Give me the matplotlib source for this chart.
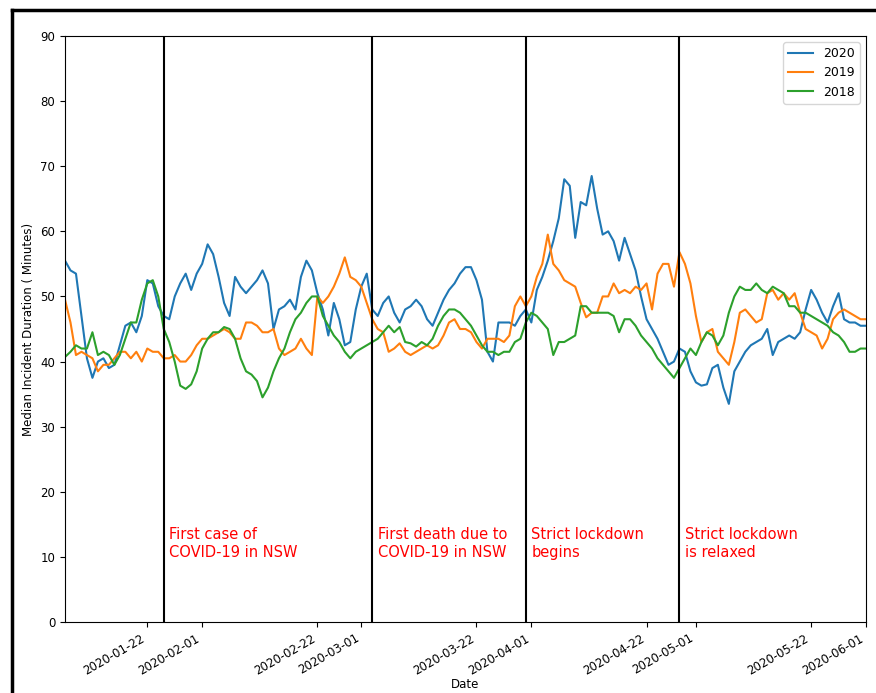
import numpy as np
import pandas as pd
import matplotlib
matplotlib.use('Agg')
import matplotlib.pyplot as plt
import matplotlib.dates as mdates
from matplotlib.lines import Line2D

# daily rolling median incident duration, 2020-01-07 .. 2020-06-01
start = '2020-01-07'
end = '2020-06-01'

y2020 = [55.5, 54, 53.5, 47, 40.5, 37.5, 40, 40.5, 39, 39.5,
         42.5, 45.5, 46, 44.5, 47, 52.5, 52, 48.5, 47, 46.5,
         50, 52, 53.5, 51, 53.5, 55, 58, 56.5, 53, 49,
         47, 53, 51.5, 50.5, 51.5, 52.5, 54, 52, 45, 48,
         48.5, 49.5, 48, 53, 55.5, 54, 50.5, 48, 44, 49,
         46.5, 42.5, 43, 48, 51.5, 53.5, 48, 47, 49, 50,
         47.5, 46, 48, 48.5, 49.5, 48.5, 46.5, 45.5, 47.5, 49.5,
         51, 52, 53.5, 54.5, 54.5, 52.5, 49.5, 41.5, 40, 46,
         46, 46, 45.5, 47, 48, 46, 51, 53, 55.5, 58.5,
         62, 68, 67, 59, 64.5, 64, 68.5, 63.5, 59.5, 60,
         58.5, 55.5, 59, 56.5, 54, 50, 46.5, 45, 43.5, 41.5,
         39.5, 40, 42, 41.5, 38.5, 36.8, 36.3, 36.5, 39, 39.5,
         36, 33.5, 38.5, 40, 41.5, 42.5, 43, 43.5, 45, 41,
         43, 43.5, 44, 43.5, 44.5, 48, 51, 49.5, 47.5, 46,
         48.5, 50.5, 46.5, 46, 46, 45.5, 45.5]

y2019 = [49.5, 46, 41, 41.5, 41, 40.5, 38.5, 39.5, 39.5, 40.5,
         41.5, 41.5, 40.5, 41.5, 40, 42, 41.5, 41.5, 40.5, 40.5,
         41, 40, 40, 41, 42.5, 43.5, 43.5, 44, 44.5, 45,
         44.5, 43.5, 43.5, 46, 46, 45.5, 44.5, 44.5, 45, 42,
         41, 41.5, 42, 43.5, 42, 41, 50, 49, 50, 51.5,
         53.5, 56, 53, 52.5, 51.5, 49, 46.5, 45, 44.5, 41.5,
         42, 42.8, 41.5, 41, 41.5, 42, 42.5, 42, 42.5, 44,
         46, 46.5, 45, 45, 44.5, 43, 42, 43.5, 43.5, 43.5,
         43, 44, 48.5, 50, 48.5, 50, 53, 55, 59.5, 55,
         54, 52.5, 52, 51.5, 49, 46.8, 47.5, 47.5, 50, 50,
         52, 50.5, 51, 50.5, 51.5, 51, 52, 48, 53.5, 55,
         55, 51.5, 56.8, 55, 52, 47, 43, 44.5, 45, 41.5,
         40.5, 39.5, 43, 47.5, 48, 47, 46, 46.5, 50.5, 51,
         49.5, 50.5, 49.5, 50.5, 47.5, 45, 44.5, 44, 42, 43.5,
         46.5, 47.5, 48, 47.5, 47, 46.5, 46.5]

y2018 = [40.7, 41.5, 42.5, 42, 42, 44.5, 41, 41.5, 41, 39.5,
         41, 43.5, 46, 46, 49.5, 52, 52.5, 50, 45, 43,
         40, 36.3, 35.8, 36.5, 38.5, 42, 43.5, 44.5, 44.5, 45.3,
         45, 43.5, 40.5, 38.5, 38, 37, 34.5, 36, 38.5, 40.5,
         42, 44.5, 46.5, 47.5, 49, 50, 50, 47, 45.5, 44,
         43, 41.5, 40.5, 41.5, 42, 42.5, 43, 43.5, 44.5, 45.5,
         44.5, 45.3, 43, 42.8, 42.3, 43, 42.5, 43.5, 45.5, 47,
         48, 48, 47.5, 46.5, 45.5, 44, 42.5, 41.5, 41.5, 41,
         41.5, 41.5, 43, 43.5, 46, 47.5, 47, 46, 45, 41,
         43, 43, 43.5, 44, 48.5, 48.5, 47.5, 47.5, 47.5, 47.5,
         47, 44.5, 46.5, 46.5, 45.5, 44, 43, 42, 40.5, 39.5,
         38.5, 37.5, 39, 40.5, 42, 41, 43, 44.5, 44, 42.5,
         44, 47.5, 50, 51.5, 51, 51, 52, 51, 50.5, 51.5,
         51, 50.5, 48.5, 48.5, 47.5, 47.5, 47, 46.5, 46, 45.5,
         44.5, 44, 43, 41.5, 41.5, 42, 42]

event_dates = ['2020-01-25', '2020-03-03', '2020-03-31', '2020-04-28']
event_labels = ['First case of\nCOVID-19 in NSW',
                'First death due to\nCOVID-19 in NSW',
                'Strict lockdown\nbegins',
                'Strict lockdown\nis relaxed']
tick_dates = ['2020-01-22', '2020-02-01', '2020-02-22', '2020-03-01', '2020-03-22',
              '2020-04-01', '2020-04-22', '2020-05-01', '2020-05-22', '2020-06-01']

dates = pd.date_range(start, end, freq='D')

fig = plt.figure(figsize=(8.76, 6.93), dpi=100)
ax = fig.add_axes([65/876, 1-622/693, (866-65)/876, (622-36)/693])

ax.plot(dates, y2020, label='2020', lw=1.5)
ax.plot(dates, y2019, label='2019', lw=1.5)
ax.plot(dates, y2018, label='2018', lw=1.5)

for d, t in zip(event_dates, event_labels):
    d = pd.Timestamp(d)
    ax.axvline(d, color='black', lw=1.5)
    ax.text(d + pd.Timedelta(days=1), 10, t, color='red', fontsize=10.5)

ax.set_xlim(dates[0], dates[-1])
ax.set_ylim(0, 90)
ax.set_xticks(pd.to_datetime(tick_dates))
ax.xaxis.set_major_formatter(mdates.DateFormatter('%Y-%m-%d'))
plt.setp(ax.get_xticklabels(), rotation=30, ha='right')
ax.tick_params(labelsize=8.5)
ax.set_xlabel('Date', fontsize=8.5, labelpad=0.5)
ax.set_ylabel('Median Incident Duration ( Minutes)', fontsize=8.5)
ax.legend(loc='upper right', fontsize=9)

# black frame round the figure (left and top edges)
fig.add_artist(Line2D([12/876, 12/876], [0, 1-10/693], color='black', lw=2.5,
                      transform=fig.transFigure))
fig.add_artist(Line2D([12/876, 1], [1-10/693, 1-10/693], color='black', lw=2.5,
                      transform=fig.transFigure))

fig.savefig('out.png')
